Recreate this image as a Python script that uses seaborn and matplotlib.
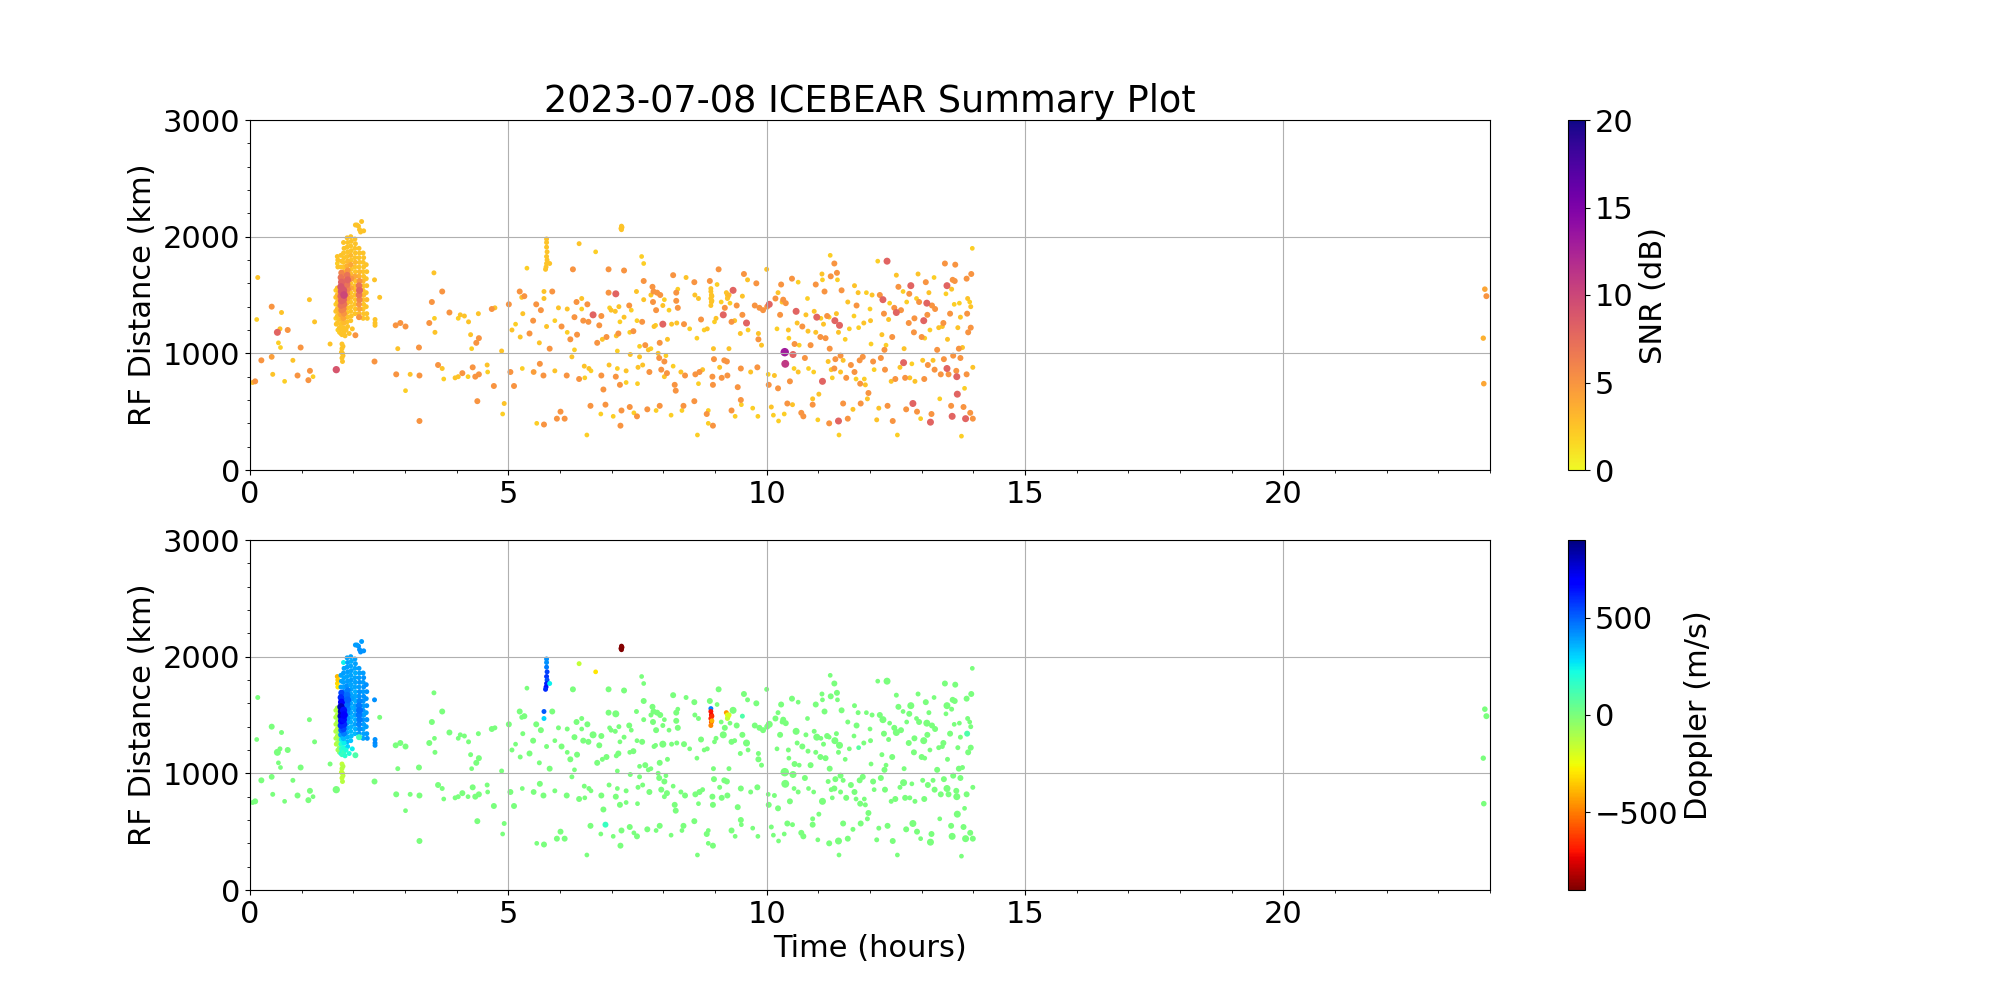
import matplotlib
matplotlib.use("Agg")
import matplotlib.pyplot as plt
import numpy as np
import pandas as pd
import seaborn as sns
from matplotlib.cm import ScalarMappable
from matplotlib.colors import Normalize
from matplotlib.ticker import AutoMinorLocator

plt.rcParams["font.size"] = 22

# ── Data ───────────────────────────────────────────────────────────────────────
# scattered echoes, 0-5 h
early_hours = [0.05, 0.10, 0.13, 0.15, 0.22, 0.42, 0.42, 0.44, 0.53, 0.55, 0.58, 0.59,
               0.61, 0.67, 0.73, 0.83, 0.92, 0.98, 1.13, 1.15, 1.16, 1.22, 1.25, 1.55,
               1.67, 2.41, 2.51, 2.82, 2.83, 2.86, 2.91, 3.01, 3.01, 3.10, 3.27, 3.28,
               3.28, 3.47, 3.52, 3.56, 3.57, 3.58, 3.64, 3.72, 3.72, 3.75, 3.86, 3.97,
               4.03, 4.03, 4.07, 4.11, 4.15, 4.22, 4.23, 4.27, 4.29, 4.31, 4.36, 4.38,
               4.40, 4.42, 4.43, 4.43, 4.59, 4.60, 4.68, 4.72, 4.74, 4.87, 4.89, 4.92]
early_range = [750, 760, 1290, 1650, 940, 1400, 970, 820, 1180, 1090, 1210, 1050,
               1350, 760, 1200, 940, 810, 1050, 770, 1460, 850, 800, 1270, 1080,
               860, 930, 1480, 1240, 820, 1040, 1260, 680, 1230, 820, 1050, 810,
               420, 1260, 1440, 1690, 1300, 1180, 900, 870, 1530, 780, 1350, 790,
               800, 1300, 1330, 830, 1320, 800, 1270, 1160, 1040, 880, 800, 1090,
               590, 1340, 820, 1130, 900, 840, 1380, 720, 1390, 1020, 480, 570]
early_snr = [2.5, 5, 2, 2.5, 5, 5, 4.5, 2.5, 8, 2, 2.5, 2,
             2.5, 2, 5, 2.5, 5, 5, 5, 2.5, 5, 2, 2.5, 2.5,
             9, 5, 2.5, 5, 5, 2.5, 5, 2, 5, 2.5, 5, 5,
             5, 5, 5, 2.5, 2, 2.5, 5, 2.5, 5, 2, 5, 2.5,
             2.5, 2, 2.5, 5, 2.5, 2, 2.5, 2.5, 2, 5, 5, 5,
             5, 2.5, 5, 5, 2.5, 2, 5, 5, 2.5, 2.5, 2, 2.5]
early_doppler = [0, 0, 0, 0, 0, 0, 0, 0, 0, 0, 0, 0,
                 0, 0, 0, 0, 0, 0, 0, 0, 0, 0, 0, 0,
                 0, 0, 0, 0, 0, 0, 0, 0, 0, 0, 0, 0,
                 0, 0, 0, 0, 0, 0, 0, 0, 0, 0, 0, 0,
                 0, 0, 0, 0, 0, 0, 0, 0, 0, 0, 0, 0,
                 0, 0, 0, 0, 0, 0, 0, 0, 0, 0, 0, 0]

# scattered echoes, 5-10 h
mid_hours = [5.01, 5.04, 5.07, 5.11, 5.14, 5.22, 5.23, 5.26, 5.27, 5.28, 5.31, 5.36,
             5.41, 5.48, 5.49, 5.54, 5.55, 5.60, 5.61, 5.63, 5.68, 5.69, 5.74, 5.80,
             5.85, 5.90, 5.90, 5.94, 5.97, 6.01, 6.03, 6.09, 6.13, 6.14, 6.14, 6.20,
             6.23, 6.25, 6.28, 6.28, 6.32, 6.33, 6.37, 6.42, 6.42, 6.45, 6.47, 6.48,
             6.52, 6.53, 6.55, 6.56, 6.59, 6.60, 6.64, 6.72, 6.76, 6.79, 6.80, 6.80,
             6.82, 6.84, 6.88, 6.90, 6.94, 6.94, 6.95, 6.96, 6.99, 7.03, 7.07, 7.08,
             7.08, 7.09, 7.11, 7.11, 7.13, 7.14, 7.16, 7.16, 7.17, 7.19, 7.24, 7.24,
             7.28, 7.28, 7.34, 7.35, 7.35, 7.36, 7.38, 7.42, 7.43, 7.48, 7.49, 7.49,
             7.50, 7.51, 7.54, 7.54, 7.58, 7.59, 7.60, 7.62, 7.62, 7.62, 7.65, 7.69,
             7.71, 7.73, 7.76, 7.76, 7.79, 7.80, 7.81, 7.82, 7.85, 7.86, 7.86, 7.88,
             7.90, 7.92, 7.93, 7.93, 7.94, 7.96, 7.99, 7.99, 8.02, 8.02, 8.02, 8.05,
             8.07, 8.08, 8.11, 8.15, 8.16, 8.19, 8.19, 8.22, 8.24, 8.25, 8.25, 8.26,
             8.28, 8.28, 8.34, 8.36, 8.39, 8.40, 8.42, 8.44, 8.51, 8.60, 8.60, 8.61,
             8.62, 8.65, 8.66, 8.68, 8.68, 8.70, 8.73, 8.76, 8.79, 8.84, 8.85, 8.87,
             8.87, 8.90, 8.95, 8.96, 8.96, 8.97, 8.98, 8.99, 9.02, 9.04, 9.07, 9.09,
             9.12, 9.13, 9.16, 9.18, 9.19, 9.23, 9.24, 9.27, 9.29, 9.32, 9.32, 9.35,
             9.38, 9.39, 9.42, 9.44, 9.49, 9.50, 9.50, 9.51, 9.53, 9.53, 9.56, 9.61,
             9.63, 9.64, 9.69, 9.73, 9.77, 9.80, 9.82, 9.83, 9.84, 9.84, 9.86, 9.90,
             9.93]
mid_range = [1420, 840, 1200, 720, 1250, 1530, 1140, 1480, 870, 1340, 1490, 1730,
             1170, 1280, 840, 1420, 400, 1090, 910, 1370, 810, 390, 1230, 1040,
             1530, 850, 1280, 440, 1390, 500, 1230, 440, 810, 1380, 1180, 1120,
             970, 1720, 1310, 1030, 1440, 1160, 780, 1470, 1380, 1280, 890, 790,
             300, 1420, 1270, 870, 550, 850, 1330, 1090, 1240, 480, 810, 1320,
             1120, 690, 560, 1140, 1720, 1520, 900, 1390, 1370, 460, 1360, 800,
             1510, 1150, 870, 1020, 1170, 1400, 1270, 730, 380, 510, 1710, 1310,
             750, 850, 1410, 1180, 540, 990, 1370, 1190, 490, 1530, 1280, 460,
             740, 880, 1060, 970, 1830, 1270, 900, 1770, 1620, 1460, 1070, 520,
             1030, 840, 1040, 1500, 1570, 1440, 1530, 1230, 1240, 1370, 510, 1520,
             1000, 960, 1090, 550, 1500, 860, 1250, 1410, 1460, 800, 930, 980,
             830, 1120, 1370, 470, 1250, 890, 1670, 730, 680, 1520, 1450, 1260,
             1550, 1390, 840, 510, 550, 1250, 810, 1650, 1210, 590, 1610, 1500,
             820, 1130, 300, 1470, 740, 840, 1290, 860, 1200, 480, 1210, 510,
             400, 1620, 800, 730, 380, 1040, 950, 1270, 1300, 1590, 1720, 880,
             1440, 790, 1330, 940, 1390, 930, 810, 1040, 1430, 1270, 510, 1540,
             1280, 460, 1410, 710, 1170, 870, 600, 560, 1330, 1490, 1680, 1260,
             1630, 1200, 840, 530, 1410, 1600, 880, 460, 1170, 1120, 1390, 1070,
             1370]
mid_snr = [5, 5, 2.5, 5, 2, 5, 2.5, 2.5, 2, 2.5, 5, 2,
           5, 5, 4.5, 5, 2, 2.5, 5, 5, 5, 5, 2.5, 5,
           5, 2.5, 2, 5, 2.5, 5, 5, 5, 5, 2.5, 2, 5,
           2.5, 5, 5, 2, 5, 5, 5, 2.5, 2, 5, 2.5, 2,
           2, 5, 5, 2.5, 5, 2, 8, 5, 5, 2, 5, 5,
           2.5, 5, 5, 5, 5, 5, 2.5, 2, 2.5, 2, 2.5, 5,
           8, 2.5, 2, 2, 5, 2.5, 2, 5, 5, 5, 5, 2.5,
           2, 2.5, 5, 2, 5, 2.5, 2, 5, 2, 2.5, 2, 5,
           2, 2.5, 2, 2.5, 2, 5, 2.5, 2, 5, 2.5, 5, 5,
           2.5, 5, 2, 2.5, 5, 5, 5, 2.5, 2, 5, 2, 5,
           2.5, 5, 5, 5, 5, 5, 8, 2.5, 2, 2.5, 5, 2,
           5, 2.5, 2, 2, 2.5, 2, 5, 5, 5, 5, 5, 2.5,
           2, 5, 2.5, 2, 5, 5, 5, 2.5, 2, 5, 5, 2.5,
           5, 2, 2, 2.5, 2, 5, 5, 2.5, 2, 5, 2.5, 2,
           2, 5, 5, 5, 5, 2.5, 5, 2, 2.5, 2, 5, 2.5,
           2, 5, 8, 5, 5, 5, 5, 2.5, 2, 5, 5, 8,
           2.5, 2, 5, 5, 2.5, 5, 5, 2, 5, 2.5, 5, 8,
           2.5, 2, 2.5, 2, 5, 5, 5, 2, 2.5, 5, 5, 2.5,
           5]
mid_doppler = [0, 0, 0, 0, 0, 0, 0, 0, 0, 0, 0, 0,
               0, 0, 0, 0, 0, 0, 0, 0, 0, 0, 0, 0,
               0, 0, 0, 0, 0, 0, 0, 0, 0, 0, 0, 0,
               0, 0, 0, 0, 0, 0, 0, 0, 0, 0, 0, 0,
               0, 0, 0, 0, 0, 0, 0, 0, 0, 0, 0, 0,
               0, 0, 150, 0, 0, 0, 0, 0, 0, 0, 0, 0,
               0, 0, 0, 0, 0, 0, 0, 0, 0, 0, 0, 0,
               0, 0, 0, 0, 0, 0, 0, 0, 0, 0, 0, 0,
               0, 0, 0, 0, 0, 0, 0, 0, 0, 0, 0, 0,
               0, 0, 0, 0, 0, 0, 0, 0, 0, 0, 0, 0,
               0, 0, 0, 0, 0, 0, 0, 0, 0, 0, 0, 0,
               0, 0, 0, 0, 0, 0, 0, 0, 0, 0, 0, 0,
               0, 0, 0, 0, 0, 0, 0, 0, 0, 0, 0, 0,
               0, 0, 0, 0, 0, 0, 0, 0, 0, 0, 0, 0,
               0, 0, 0, 0, 0, 0, 0, 0, 0, 0, 0, 0,
               0, 0, 0, 0, 0, 0, 0, 0, 0, 0, 0, 0,
               0, 0, 0, 0, 0, 0, 0, 0, 0, 100, 0, 0,
               0, 0, 0, 0, 0, 0, 0, 0, 0, 0, 0, 0,
               0]

# scattered echoes, 10-14 h
late_hours = [10.00, 10.01, 10.03, 10.04, 10.05, 10.09, 10.13, 10.15, 10.17, 10.20, 10.22, 10.22,
              10.23, 10.26, 10.28, 10.30, 10.32, 10.34, 10.35, 10.36, 10.37, 10.40, 10.42, 10.43,
              10.45, 10.49, 10.50, 10.51, 10.53, 10.54, 10.57, 10.59, 10.61, 10.61, 10.63, 10.67,
              10.69, 10.71, 10.74, 10.76, 10.79, 10.80, 10.81, 10.85, 10.89, 10.89, 10.91, 10.92,
              10.95, 10.95, 10.97, 10.99, 11.01, 11.04, 11.05, 11.07, 11.08, 11.08, 11.10, 11.12,
              11.14, 11.17, 11.19, 11.21, 11.21, 11.22, 11.23, 11.24, 11.25, 11.27, 11.31, 11.31,
              11.32, 11.33, 11.35, 11.36, 11.37, 11.39, 11.39, 11.40, 11.41, 11.43, 11.43, 11.45,
              11.48, 11.48, 11.52, 11.54, 11.57, 11.57, 11.60, 11.63, 11.67, 11.69, 11.70, 11.70,
              11.73, 11.74, 11.77, 11.78, 11.80, 11.81, 11.82, 11.86, 11.88, 11.89, 11.91, 11.93,
              11.95, 11.97, 12.00, 12.01, 12.02, 12.04, 12.06, 12.08, 12.13, 12.15, 12.17, 12.19,
              12.21, 12.23, 12.25, 12.27, 12.28, 12.29, 12.31, 12.33, 12.34, 12.36, 12.38, 12.41,
              12.43, 12.44, 12.47, 12.49, 12.51, 12.51, 12.53, 12.55, 12.58, 12.60, 12.64, 12.65,
              12.66, 12.68, 12.70, 12.71, 12.75, 12.76, 12.77, 12.79, 12.81, 12.83, 12.85, 12.86,
              12.87, 12.90, 12.91, 12.93, 12.95, 12.98, 13.00, 13.02, 13.04, 13.05, 13.06, 13.08,
              13.10, 13.11, 13.12, 13.14, 13.16, 13.17, 13.19, 13.20, 13.22, 13.24, 13.25, 13.26,
              13.30, 13.33, 13.35, 13.37, 13.40, 13.42, 13.43, 13.45, 13.47, 13.49, 13.49, 13.50,
              13.52, 13.55, 13.57, 13.58, 13.59, 13.60, 13.61, 13.63, 13.64, 13.65, 13.67, 13.68,
              13.69, 13.70, 13.72, 13.73, 13.75, 13.75, 13.77, 13.79, 13.81, 13.83, 13.85, 13.87,
              13.87, 13.88, 13.89, 13.90, 13.93, 13.94, 13.95, 13.95, 13.96, 13.98, 13.99, 13.99]
late_range = [1720, 1400, 820, 730, 1420, 540, 470, 810, 1470, 1210, 700, 1520,
              420, 1330, 1590, 1440, 1460, 480, 1010, 910, 1430, 570, 1200, 1130,
              760, 1640, 560, 990, 870, 1080, 1360, 1260, 1610, 840, 1070, 490,
              1230, 460, 960, 1330, 1470, 1190, 870, 1070, 610, 560, 840, 1360,
              1590, 1180, 1310, 430, 650, 1140, 1300, 1680, 1630, 760, 1250, 1530,
              1130, 1320, 930, 1310, 400, 1040, 1840, 1660, 860, 790, 870, 1770,
              1280, 950, 1340, 1690, 1630, 420, 1180, 300, 1240, 840, 980, 1540,
              940, 570, 1120, 790, 1440, 440, 1210, 900, 520, 1320, 1580, 840,
              780, 1410, 1520, 1220, 940, 740, 570, 970, 1260, 780, 730, 1520,
              610, 660, 1380, 1280, 1080, 1500, 930, 860, 430, 1790, 530, 1500,
              960, 1160, 1460, 1340, 1030, 860, 1070, 1790, 550, 1290, 1430, 760,
              1140, 420, 1390, 780, 1670, 1350, 300, 1570, 880, 1370, 1530, 920,
              1040, 790, 520, 1440, 1260, 1510, 790, 1580, 910, 570, 1180, 1300,
              760, 1470, 500, 1680, 1440, 440, 1140, 940, 1280, 780, 1130, 1610,
              1430, 1330, 900, 1520, 1200, 410, 480, 1410, 940, 1650, 860, 1380,
              1030, 1220, 610, 820, 1230, 1260, 950, 1770, 1510, 870, 1580, 1120,
              820, 1340, 550, 1550, 460, 1630, 980, 1420, 1620, 1760, 850, 800,
              650, 1220, 1040, 1430, 960, 1310, 290, 1050, 540, 700, 440, 1640,
              820, 1340, 1470, 1180, 1440, 490, 1400, 1220, 1680, 1900, 880, 440]
late_snr = [2.5, 5, 2, 5, 8, 2.5, 2, 2.5, 5, 2, 5, 2.5,
            2, 5, 5, 2.5, 5, 2, 13, 11, 5, 5, 2.5, 2,
            5, 5, 2.5, 8, 2, 5, 8, 2.5, 2, 2.5, 2, 5,
            5, 5, 5, 2.5, 2, 2.5, 2, 5, 2.5, 5, 2, 2.5,
            5, 2.5, 8, 2, 2.5, 5, 2, 2.5, 2, 8, 2.5, 5,
            5, 5, 2.5, 2, 5, 5, 2, 5, 2.5, 2, 5, 5,
            8, 5, 2.5, 5, 2, 8, 2.5, 2, 8, 2.5, 5, 5,
            2.5, 5, 2, 5, 2.5, 5, 2, 5, 2.5, 2, 2.5, 5,
            2, 5, 2.5, 2, 5, 5, 5, 5, 2.5, 2, 2.5, 2,
            2.5, 5, 2, 2.5, 2, 2.5, 5, 2, 2.5, 2, 2.5, 5,
            5, 2.5, 8, 5, 5, 5, 2, 8, 5, 2.5, 2, 2.5,
            5, 5, 5, 5, 2.5, 8, 2, 5, 2.5, 5, 2, 8,
            2.5, 5, 5, 2, 5, 5, 2.5, 8, 2, 8, 5, 5,
            2.5, 2, 5, 2.5, 5, 2, 5, 2.5, 8, 5, 2, 5,
            8, 5, 5, 2.5, 2, 8, 5, 5, 2.5, 2, 5, 5,
            5, 2.5, 2, 5, 2.5, 5, 5, 5, 2, 8, 8, 2.5,
            5, 5, 5, 2.5, 8, 5, 5, 2, 5, 5, 5, 8,
            8, 2.5, 5, 2, 5, 2.5, 2, 2.5, 5, 2, 8, 5,
            5, 5, 2.5, 5, 2, 5, 2.5, 5, 5, 2, 2.5, 5]
late_doppler = [0, 0, 0, 0, 0, 0, 0, 0, 0, 0, 0, 0,
                0, 0, 0, 0, 0, 0, 0, 0, 0, 0, 0, 0,
                0, 0, 0, 0, 0, 0, 0, 0, 0, 0, 0, 0,
                0, 0, 0, 0, 0, 0, 0, 0, 0, 0, 0, 0,
                0, 0, 0, 0, 0, 0, 0, 0, 0, 0, 0, 0,
                0, 0, 0, 0, 0, 0, 0, 0, 0, 0, 0, 0,
                0, 0, 0, 0, 0, 0, 0, 0, 0, 0, 0, 0,
                0, 0, 0, 0, 0, 0, 0, 0, 0, 0, 0, 0,
                0, 0, 0, 80, 0, 0, 0, 0, 0, 0, 0, 0,
                0, 0, 0, 0, 0, 0, 0, 0, 0, 0, 0, 0,
                0, 0, 0, 0, 0, 0, 0, 0, 0, 0, 0, 0,
                0, 0, 0, 0, 0, 0, 0, 0, 0, 0, 0, 0,
                0, 0, 0, 0, 0, 0, 0, 0, 0, 0, 0, 0,
                0, 0, 0, 0, 0, 0, 0, 0, 0, 0, 0, 0,
                0, 0, 0, 0, 0, 0, 0, 0, 0, 0, 0, 0,
                0, 0, 0, 0, 0, 0, 0, 0, 0, 0, 0, 0,
                0, 0, 0, 0, 0, 0, 0, 0, 0, 0, 0, 0,
                0, 0, 0, 0, 0, 0, 0, 0, 0, 0, 0, 0,
                0, 100, 0, 0, 0, 0, 0, 0, 0, 0, 0, 0]

# the strong burst near 2 h, column by column
burst_hours = [1.69, 1.70, 1.69, 1.70,
               1.66, 1.66, 1.66, 1.66, 1.66, 1.67, 1.69, 1.69, 1.69, 1.69, 1.69, 1.69, 1.70,
               1.72, 1.72, 1.72, 1.72, 1.72, 1.73, 1.73,
               1.76, 1.77, 1.76, 1.77, 1.76, 1.77, 1.76, 1.77, 1.76, 1.77, 1.76, 1.77, 1.76,
               1.77, 1.76, 1.77, 1.76,
               1.81, 1.82, 1.81, 1.82, 1.81, 1.82, 1.81, 1.82, 1.81, 1.82, 1.81, 1.82, 1.81,
               1.82, 1.81, 1.82, 1.81, 1.82, 1.81, 1.82,
               1.88, 1.89, 1.88, 1.89, 1.88, 1.89, 1.88, 1.89, 1.88, 1.89, 1.88, 1.89, 1.88,
               1.89, 1.88, 1.89, 1.88, 1.89, 1.88, 1.89,
               1.95, 1.96, 1.95, 1.96, 1.95, 1.96, 1.95, 1.96, 1.95, 1.96, 1.95, 1.96, 1.95,
               1.96, 1.95, 1.96, 1.95, 1.96, 1.95,
               2.03, 2.04, 2.03, 2.04, 2.03, 2.04, 2.03, 2.04, 2.03, 2.04, 2.03, 2.04, 2.03,
               2.04, 2.03, 2.04, 2.03,
               2.11, 2.12, 2.11, 2.12, 2.11, 2.12, 2.11, 2.12, 2.11, 2.12, 2.11, 2.12, 2.11,
               2.12, 2.11, 2.12,
               2.19, 2.20, 2.19, 2.20, 2.19, 2.20, 2.19, 2.20, 2.19, 2.20, 2.19, 2.20, 2.19,
               2.20, 2.19,
               2.25, 2.26, 2.25, 2.26, 2.25, 2.26, 2.25, 2.26, 2.27,
               2.41, 2.42, 2.42, 2.42, 2.11, 2.04,
               2.04, 2.10, 2.16, 2.14, 2.20, 2.12, 2.07,
               1.78, 1.84, 1.92, 1.98, 1.86,
               1.78, 1.78, 1.79, 1.78, 1.79, 1.80, 1.80, 1.77]
burst_range = [1830, 1800, 1770, 1740,
               1540, 1480, 1420, 1360, 1300, 1250, 1560, 1500, 1440, 1380, 1320, 1260, 1200,
               1530, 1470, 1410, 1350, 1290, 1220, 1180,
               1840, 1790, 1740, 1690, 1650, 1610, 1570, 1530, 1490, 1450, 1410, 1370, 1330,
               1290, 1250, 1210, 1170,
               1950, 1900, 1860, 1820, 1780, 1740, 1700, 1660, 1620, 1580, 1540, 1500, 1460,
               1420, 1380, 1340, 1300, 1260, 1220, 1180,
               1990, 1950, 1910, 1870, 1830, 1790, 1750, 1710, 1670, 1630, 1590, 1550, 1510,
               1470, 1430, 1390, 1350, 1310, 1270, 1230,
               2000, 1960, 1920, 1880, 1840, 1800, 1760, 1720, 1680, 1640, 1600, 1560, 1520,
               1480, 1440, 1400, 1360, 1320, 1280,
               1980, 1940, 1900, 1860, 1820, 1780, 1740, 1700, 1660, 1620, 1580, 1540, 1500,
               1460, 1420, 1380, 1340,
               1900, 1860, 1820, 1780, 1740, 1700, 1660, 1620, 1580, 1540, 1500, 1460, 1420,
               1380, 1340, 1310,
               1860, 1820, 1780, 1740, 1700, 1660, 1620, 1580, 1540, 1500, 1460, 1420, 1380,
               1340, 1300,
               1760, 1700, 1640, 1580, 1520, 1460, 1400, 1340, 1300,
               1630, 1290, 1260, 1240, 1310, 1155,
               2100, 2090, 2130, 2040, 2050, 2060, 2100,
               1160, 1150, 1170, 1210, 1200,
               1080, 1040, 1000, 960, 930, 1060, 980, 1010]
burst_snr = [2.5, 2.5, 2, 2.5,
             2, 2.5, 2, 2.5, 2, 2.5, 2.5, 3, 2.5, 3, 2.5, 2.5, 2,
             3, 3.5, 3, 3, 2.5, 2.5, 2,
             2.5, 2.5, 2.5, 6, 7, 8, 9, 9, 8, 8, 7, 6, 4,
             3, 2.5, 2.5, 2.5,
             2.5, 2.5, 2.5, 2.5, 2.5, 2.5, 3, 4, 6, 7, 9, 10, 8,
             7, 6, 5, 4, 3, 2.5, 2.5,
             2.5, 2.5, 2.5, 2.5, 2.5, 3, 3.5, 5, 7, 8, 7, 6, 5,
             4, 3, 2.5, 2.5, 2.5, 2.5, 2.5,
             2.5, 2.5, 2.5, 2.5, 3, 2.5, 4, 2.5, 3, 5, 2.5, 4, 2.5,
             3, 2.5, 2.5, 2.5, 2.5, 2.5,
             2.5, 2.5, 2.5, 2.5, 2.5, 3, 2.5, 2.5, 4, 2.5, 2.5, 3, 2.5,
             2.5, 2.5, 2.5, 2.5,
             2.5, 2.5, 2.5, 2.5, 2.5, 3, 3.5, 5, 7, 8, 7, 6, 5,
             4, 3, 2.5,
             2.5, 2.5, 2.5, 2.5, 2.5, 2.5, 3, 2.5, 2.5, 3, 2.5, 2.5, 2.5,
             2.5, 2.5,
             2.5, 2.5, 2.5, 2.5, 2.5, 3, 2.5, 2.5, 2.5,
             2.5, 2.5, 2.5, 2.5, 5, 5,
             2.5, 2.5, 2.5, 2.5, 2.5, 2.5, 2.5,
             2.5, 2.5, 2.5, 2.5, 2.5,
             2.5, 2.5, 2.5, 2.5, 2.5, 2.5, 2.5, 2.5]
burst_doppler = [-380, -350, -320, -300,
                 -120, -110, -130, -120, -100, -140, -110, -120, -100, -130, -120, -110, -90,
                 -100, -80, -100, -60, -50, -40, -30,
                 380, 380, 400, 550, 600, 700, 800, 820, 780, 700, 600, 500, 400,
                 250, 200, 180, 200,
                 250, 380, 400, 380, 390, 400, 420, 450, 550, 600, 650, 700, 650,
                 600, 550, 450, 350, 250, 200, 150,
                 380, 380, 390, 400, 380, 400, 420, 450, 480, 500, 480, 450, 430,
                 420, 400, 380, 380, 360, 350, 300,
                 380, 370, 380, 390, 380, 400, 380, 390, 380, 400, 380, 370, 380,
                 360, 370, 360, 350, 340, 330,
                 380, 390, 380, 370, 380, 390, 380, 370, 380, 370, 380, 390, 380,
                 370, 380, 360, 350,
                 400, 390, 400, 410, 400, 420, 420, 440, 460, 480, 470, 460, 440,
                 420, 400, 400,
                 400, 410, 400, 410, 400, 420, 410, 400, 410, 400, 410, 400, 390,
                 380, 380,
                 420, 410, 420, 410, 400, 410, 400, 400, 410,
                 420, 420, 430, 420, 120, 100,
                 400, 420, 400, 420, 410, 420, 400,
                 150, 180, 200, 250, 200,
                 -150, -130, -140, -150, -130, -120, -140, -160]

# compact echoes elsewhere (5.7 h streak, single strong echoes, 24 h)
patch_hours = [5.69, 5.69, 5.74, 5.74, 5.74, 5.75, 5.74, 5.75, 5.74, 5.73, 5.72, 5.80,
               6.37, 6.69,
               7.18, 7.19, 7.20, 7.19,
               8.92, 8.92, 8.93, 8.92, 8.93, 8.92, 8.94, 8.94,
               9.22, 9.24, 9.25, 9.27, 9.24,
               23.90, 23.93, 23.87, 23.88]
patch_range = [1530, 1470, 1980, 1950, 1910, 1870, 1830, 1800, 1770, 1740, 1720, 1770,
               1940, 1870,
               2070, 2090, 2080, 2060,
               1555, 1530, 1500, 1470, 1440, 1410, 1490, 1450,
               1520, 1500, 1480, 1500, 1470,
               1550, 1490, 1130, 740]
patch_snr = [2.5, 2.5, 2.5, 2.5, 2.5, 2.5, 2.5, 2.5, 2.5, 2.5, 2.5, 2.5,
             2.5, 2,
             2.5, 2.5, 2.5, 2.5,
             2.5, 2.5, 2.5, 2.5, 2.5, 2.5, 2.5, 2.5,
             2.5, 2.5, 2.5, 3, 2.5,
             4, 5, 3.5, 4]
patch_doppler = [520, 300, 420, 420, 450, 560, 580, 540, 620, 650, 600, 250,
                 -150, -300,
                 -900, -900, -880, -900,
                 450, -700, -720, -680, -600, -480, -650, -400,
                 -450, -250, -180, -200, -150,
                 0, 0, 0, 0]

# ── Build table ────────────────────────────────────────────────────────────────
df = pd.DataFrame({
    "hours":   early_hours + mid_hours + late_hours + burst_hours + patch_hours,
    "range":   early_range + mid_range + late_range + burst_range + patch_range,
    "snr":     early_snr + mid_snr + late_snr + burst_snr + patch_snr,
    "doppler": early_doppler + mid_doppler + late_doppler + burst_doppler + patch_doppler,
})
df = df.sort_values("snr", kind="stable")

# ── Plot ───────────────────────────────────────────────────────────────────────
fig, (ax1, ax2) = plt.subplots(2, 1, figsize=(20, 10), dpi=100)

point_kw = dict(size="snr", sizes=(7, 53), size_norm=(0, 20),
                linewidth=0, edgecolor="none", legend=False)

sns.scatterplot(data=df, x="hours", y="range", hue="snr",
                palette="plasma_r", hue_norm=(0, 20), ax=ax1, **point_kw)
sns.scatterplot(data=df, x="hours", y="range", hue="doppler",
                palette="jet_r", hue_norm=(-900, 900), ax=ax2, **point_kw)

for ax in (ax1, ax2):
    ax.set_xlim(0, 24)
    ax.set_ylim(0, 3000)
    ax.set_xticks([0, 5, 10, 15, 20])
    ax.set_yticks([0, 1000, 2000, 3000])
    ax.xaxis.set_minor_locator(AutoMinorLocator(5))
    ax.yaxis.set_minor_locator(AutoMinorLocator(5))
    ax.grid(True)
    ax.set_ylabel("RF Distance (km)")
    ax.set_xlabel("")

ax1.set_title("2023-07-08 ICEBEAR Summary Plot")
ax2.set_xlabel("Time (hours)")

cb1 = fig.colorbar(ScalarMappable(norm=Normalize(0, 20), cmap="plasma_r"), ax=ax1)
cb1.set_ticks([0, 5, 10, 15, 20])
cb1.set_label("SNR (dB)")

cb2 = fig.colorbar(ScalarMappable(norm=Normalize(-900, 900), cmap="jet_r"), ax=ax2)
cb2.set_ticks([-500, 0, 500])
cb2.set_label("Doppler (m/s)")

plt.savefig("out.png")
